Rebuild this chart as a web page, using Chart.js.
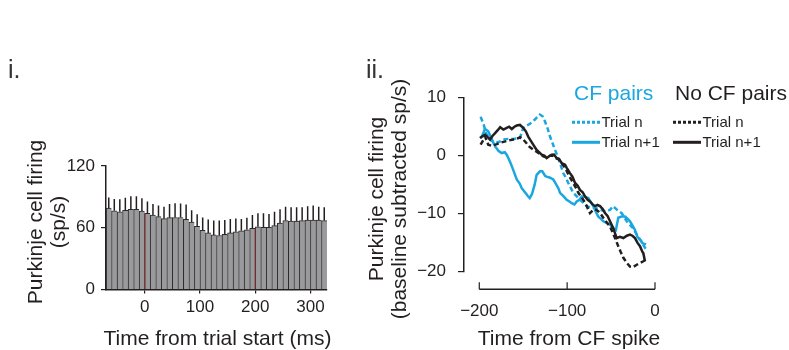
<!DOCTYPE html>
<html><head><meta charset="utf-8">
<script src="https://cdn.jsdelivr.net/npm/chart.js@4.4.1/dist/chart.umd.min.js"></script>
<style>
html,body{margin:0;padding:0;background:#fff;width:789px;height:350px;overflow:hidden}
canvas{position:absolute;left:0;top:0}
</style></head><body>
<canvas id="c1" width="789" height="350"></canvas>
<canvas id="c2" width="789" height="350"></canvas>
<script>
// ---------- Panel i data ----------
const binCenters = [-65,-55,-45,-35,-25,-15,-5,5,15,25,35,45,55,65,75,85,95,105,115,125,135,145,155,165,175,185,195,205,215,225,235,245,255,265,275,285,295,305,315,325];
const firingRate = [79,76.5,75.5,77,78,78,76.3,74,72.4,70.8,68.8,69.8,70,70,68.2,65.6,61.5,57.5,55,53,52.5,53.5,55,56,57,58,59.5,61,60.5,60.5,62,64.5,67,66.5,66.5,67,67.5,67.5,67.5,67];
const firingUpper = [89.3,88,87.6,89.2,90.7,90.7,88.6,85.4,83,81.5,80.5,83,83.7,83.5,82.7,77,73,70,68,67,67,67.5,68.5,69,68.5,69.8,72.4,74,74,73.4,75.6,78,80.5,80,80,80,81,81.5,80.5,80];
const markerTimes = [0, 200];
const xTicks1 = [0, 100, 200, 300];
const yTicks1 = [0, 60, 120];

// ---------- Panel ii data ----------
const cfTrialNx = [-198.5,-195,-192.4,-188,-182,-177,-172.7,-167,-161.3,-156,-153.7,-150,-146,-142.3,-137,-131,-128,-125.2,-122,-119.5,-116.5,-113.8,-110,-107,-104.4,-101.5,-98.7,-96,-93,-89,-85.4,-81.5,-77.7,-74,-70.2,-66,-62.6,-59,-55,-51,-48,-45.5,-42,-37.9,-35,-32.2,-28,-25,-22.8,-19,-15.1,-12.5,-10];
const cfTrialNy = [6.7,5.4,3.9,2.8,2.2,2.4,2.8,2.9,2.9,3.0,3.05,4.8,5.2,5.5,6.2,7.1,6.8,5.9,4.6,3.3,2.1,1.0,-0.4,-1.8,-3.0,-3.8,-4.7,-5.5,-6.4,-7.0,-7.6,-8.1,-8.7,-8.9,-9.0,-9.1,-9.3,-9.5,-9.6,-9.3,-8.7,-9.0,-9.5,-9.9,-10.6,-11.3,-12.0,-12.5,-13.1,-14.0,-14.8,-15.6,-16.2];
const cfTrialN1x = [-198.5,-196,-193.5,-189.8,-186,-182,-178,-174.5,-171,-168.8,-166,-163,-160,-157.4,-154,-151.7,-148,-145,-142.6,-140,-137,-134.7,-131,-128.3,-125,-123.3,-119.5,-115.8,-113,-110,-108.1,-104,-100.5,-97.4,-94.8,-91.7,-89.1,-86,-83.4,-79.5,-75.9,-73,-70.2,-67,-64.5,-61.5,-58.9,-55,-51.2,-47.5,-44.5,-41.8,-38,-34.1,-31,-28.5,-25.7,-22.8,-20,-17.1,-14.3,-12,-10.2];
const cfTrialN1y = [3.0,3.7,4.6,4.2,2.9,1.6,0.8,0.46,0.6,0.17,-0.7,-1.8,-3.0,-4.1,-4.8,-5.6,-6.3,-6.9,-7.3,-6.6,-5.0,-3.3,-2.7,-2.7,-3.5,-3.6,-3.8,-4.1,-4.8,-5.6,-6.4,-7.0,-7.6,-7.9,-8.2,-8.4,-7.9,-7.6,-7.0,-7.1,-7.3,-8.0,-8.7,-9.8,-10.5,-10.9,-11.3,-11.6,-11.9,-12.5,-12.8,-10.7,-10.5,-10.5,-10.9,-11.3,-12.0,-12.8,-14.0,-14.5,-15.1,-15.2,-15.3];
const noCfTrialNx = [-198.5,-195,-193.5,-189.8,-186,-180,-174.5,-167,-161.3,-156,-153.7,-150,-146,-142.6,-138,-134.7,-131,-127.2,-123,-119.5,-116,-113.8,-110,-106,-102,-98,-94,-90.5,-87.3,-83,-80,-77.7,-74,-70.2,-67,-64.5,-61.5,-58.9,-55,-51.2,-48,-45.5,-41.8,-39,-36,-32,-28.5,-25,-20.8,-17,-13.3,-10.2];
const noCfTrialNy = [1.9,2.8,3.3,1.9,1.7,2.0,2.3,2.6,2.8,3.0,3.2,2.8,2.1,1.5,1.0,0.7,0.3,-0.1,-0.3,0.0,0.0,-0.4,-0.6,-1.3,-2.2,-3.4,-4.5,-5.4,-6.4,-7.3,-8.0,-8.7,-9.9,-9.3,-9.3,-9.6,-10.1,-10.7,-11.5,-12.2,-13.3,-14.2,-15.6,-16.6,-17.6,-18.5,-19.1,-19.2,-18.8,-18.5,-18.2,-17.9];
const noCfTrialN1x = [-199.2,-196,-193.5,-190.5,-187.8,-185,-182,-179,-176.3,-172.5,-168.8,-166,-163,-160,-157.4,-153.7,-150,-147,-144.3,-141.5,-138.6,-134.7,-132,-129,-126,-123.3,-120.5,-117.6,-115,-112,-109,-106.2,-102.4,-100.5,-96.8,-94,-91,-88,-85.4,-82.3,-79.7,-76.6,-74,-71,-68.3,-65.5,-62.6,-59.5,-56.9,-54,-51.2,-47.5,-43.6,-40,-36,-32,-28.5,-25.7,-22.8,-20,-17.1,-14.3,-13.3,-11.4];
const noCfTrialN1y = [3.05,3.4,3.6,3.2,2.8,3.4,3.9,4.4,4.9,4.5,4.8,5.0,4.6,5.0,5.2,5.3,4.8,4.2,3.3,2.6,1.9,1.0,0.6,0.17,0.0,-0.4,-0.1,0.17,0.2,-0.4,-0.6,-1.3,-1.55,-2.1,-3.0,-3.6,-4.7,-5.2,-5.9,-6.3,-7.0,-7.6,-7.9,-8.4,-8.7,-8.5,-8.7,-9.2,-9.9,-10.4,-11.3,-12.5,-14.2,-14.0,-14.2,-13.8,-13.6,-13.8,-14.2,-15.0,-15.6,-16.6,-16.8,-18.2];
const xTicks2 = [-200, -100, 0];
const yTicks2 = [-20, -10, 0, 10];

// ---------- styles ----------
const FONT = "'Liberation Sans', Arial, Helvetica, sans-serif";
const INK = '#231f20';
const CYAN = '#1aa7e0';
const minus = v => String(v).replace('-', '\u2212');
const setTicks = vals => s => { s.ticks = vals.map(v => ({ value: v })); };

// ---------- Panel i ----------
const barPts = binCenters.map((x, i) => ({ x, y: firingRate[i] }));
const errPts = [];
binCenters.forEach((x, i) => { errPts.push({ x, y: firingRate[i] }, { x, y: firingUpper[i] }, { x, y: null }); });
const markPts = [];
markerTimes.forEach(t => {
  const near = binCenters.map((c, i) => Math.abs(c - t) <= 5 ? firingRate[i] : Infinity);
  markPts.push({ x: t, y: 0 }, { x: t, y: Math.min(...near) }, { x: t, y: null });
});

new Chart(document.getElementById('c1'), {
  type: 'bar',
  data: { datasets: [
    { type: 'line', data: errPts, borderColor: INK, borderWidth: 1.5, pointRadius: 0, spanGaps: false, order: 1 },
    { type: 'line', data: markPts, borderColor: '#7a2b2b', borderWidth: 1, pointRadius: 0, spanGaps: false, order: 2 },
    { type: 'bar', data: barPts, backgroundColor: '#9a9a9c', borderColor: '#2b2b2b',
      borderWidth: { top: 1, left: 1, right: 0, bottom: 0 }, borderSkipped: false,
      barPercentage: 1, categoryPercentage: 1, order: 3 }
  ]},
  options: {
    responsive: false, animation: false, events: [],
    layout: { padding: { left: 46, top: 166, right: 462, bottom: 20.5 } },
    plugins: { legend: { display: false }, tooltip: { enabled: false } },
    scales: {
      x: { type: 'linear', min: -70, max: 330, offset: false,
        afterBuildTicks: setTicks(xTicks1), afterFit: s => { s.height = 40; },
        grid: { display: true, drawOnChartArea: false, drawTicks: true, tickLength: 4, color: INK, lineWidth: 1.2, offset: false },
        border: { display: true, color: INK, width: 1.5, z: 1 },
        ticks: { font: { family: FONT, size: 17 }, color: INK, padding: 4, maxRotation: 0, autoSkip: false, callback: minus } },
      y: { min: 0, max: 120,
        afterBuildTicks: setTicks(yTicks1), afterFit: s => { s.width = 60; },
        grid: { display: true, drawOnChartArea: false, drawTicks: true, tickLength: 5, color: INK, lineWidth: 1.2 },
        border: { display: true, color: INK, width: 1.5, z: 1 },
        ticks: { font: { family: FONT, size: 17 }, color: INK, padding: 6, callback: minus } }
    }
  }
});

// ---------- Panel ii ----------
const pts = (xs, ys) => xs.map((x, i) => ({ x, y: ys[i] }));

const detachedX = {
  id: 'detachedX',
  afterDraw(chart) {
    const { ctx, chartArea } = chart;
    const xs = chart.scales.x;
    const y = chartArea.bottom + 17.6;
    const vals = xs.ticks.map(t => t.value);
    const x0 = xs.getPixelForValue(Math.min(...vals));
    const x1 = xs.getPixelForValue(Math.max(...vals));
    ctx.save();
    ctx.strokeStyle = INK; ctx.lineWidth = 1.5;
    ctx.beginPath(); ctx.moveTo(x0, y); ctx.lineTo(x1, y); ctx.stroke();
    ctx.lineWidth = 1.2;
    vals.forEach(v => { const px = xs.getPixelForValue(v); ctx.beginPath(); ctx.moveTo(px, y); ctx.lineTo(px, y - 7); ctx.stroke(); });
    ctx.restore();
  }
};

const texts = {
  id: 'texts',
  afterDraw(chart) {
    const ctx = chart.ctx;
    ctx.save();
    ctx.fillStyle = '#333';
    ctx.font = `25px ${FONT}`;
    ctx.textAlign = 'left'; ctx.textBaseline = 'alphabetic';
    ctx.fillText('i.', 8, 78);
    ctx.fillText('ii.', 366, 78);
    ctx.fillStyle = INK;
    ctx.font = `21px ${FONT}`;
    ctx.textAlign = 'center';
    ctx.fillText('Time from trial start (ms)', 217.5, 345);
    ctx.fillText('Time from CF spike', 569, 345);
    const rot = (t, x, y) => { ctx.save(); ctx.translate(x, y); ctx.rotate(-Math.PI / 2); ctx.fillText(t, 0, 0); ctx.restore(); };
    rot('Purkinje cell firing', 42, 222);
    rot('(sp/s)', 65, 222);
    rot('Purkinje cell firing', 383, 199);
    rot('(baseline subtracted sp/s)', 405.5, 199);
    // legend
    ctx.textAlign = 'left';
    ctx.fillStyle = CYAN; ctx.fillText('CF pairs', 574, 100);
    ctx.fillStyle = INK; ctx.fillText('No CF pairs', 675, 100);
    ctx.font = `15px ${FONT}`;
    const rows = [
      { x: 572, c: CYAN, dash: [3, 2], y: 122.3, label: 'Trial n' },
      { x: 572, c: CYAN, dash: [], y: 142.3, label: 'Trial n+1' },
      { x: 673, c: INK, dash: [3, 2], y: 122.3, label: 'Trial n' },
      { x: 673, c: INK, dash: [], y: 142.3, label: 'Trial n+1' }
    ];
    rows.forEach(r => {
      ctx.strokeStyle = r.c; ctx.lineWidth = 3; ctx.setLineDash(r.dash);
      ctx.beginPath(); ctx.moveTo(r.x, r.y); ctx.lineTo(r.x + 28, r.y); ctx.stroke();
      ctx.setLineDash([]);
      ctx.fillStyle = INK; ctx.fillText(r.label, r.x + 29.5, r.y + 4.5);
    });
    ctx.restore();
  }
};

new Chart(document.getElementById('c2'), {
  type: 'line',
  data: { datasets: [
    { data: pts(noCfTrialNx, noCfTrialNy), borderColor: INK, borderWidth: 2.5, borderDash: [5, 3], pointRadius: 0, tension: 0 },
    { data: pts(noCfTrialN1x, noCfTrialN1y), borderColor: INK, borderWidth: 2.5, pointRadius: 0, tension: 0 },
    { data: pts(cfTrialNx, cfTrialNy), borderColor: CYAN, borderWidth: 2.5, borderDash: [5, 3], pointRadius: 0, tension: 0 },
    { data: pts(cfTrialN1x, cfTrialN1y), borderColor: CYAN, borderWidth: 2.5, pointRadius: 0, tension: 0 }
  ]},
  options: {
    responsive: false, animation: false, events: [],
    layout: { padding: { left: 414, top: 97.7, right: 134, bottom: 28.3 } },
    plugins: { legend: { display: false }, tooltip: { enabled: false } },
    scales: {
      x: { type: 'linear', min: -217.4, max: 0,
        afterBuildTicks: setTicks(xTicks2), afterFit: s => { s.height = 50; },
        grid: { display: false, drawTicks: false },
        border: { display: false },
        ticks: { font: { family: FONT, size: 17 }, color: INK, padding: 29, maxRotation: 0, autoSkip: false, callback: minus } },
      y: { min: -20, max: 10,
        afterBuildTicks: setTicks(yTicks2), afterFit: s => { s.width = 50; },
        grid: { display: true, drawOnChartArea: false, drawTicks: true, tickLength: 6, color: INK, lineWidth: 1.2 },
        border: { display: true, color: INK, width: 1.5 },
        ticks: { font: { family: FONT, size: 17 }, color: INK, padding: 12, callback: minus } }
    }
  },
  plugins: [detachedX, texts]
});
</script>
</body></html>
